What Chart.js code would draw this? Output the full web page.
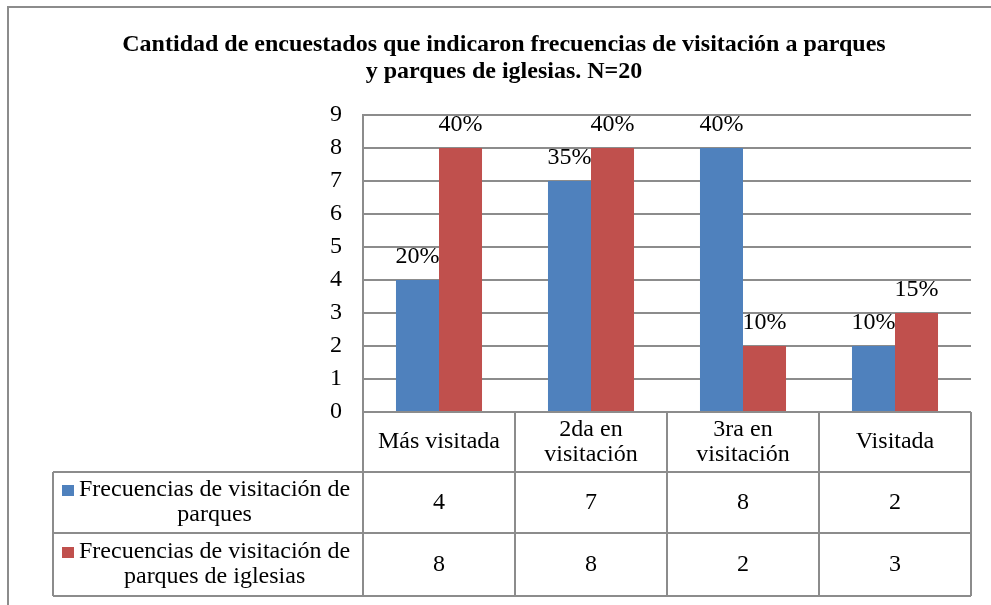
<!DOCTYPE html>
<html>
<head>
<meta charset="utf-8">
<script src="https://cdn.jsdelivr.net/npm/chart.js@4.4.1/dist/chart.umd.min.js"></script>
<style>
    html, body { margin: 0; padding: 0; background: #fff; }
    #wrap { width: 991px; height: 605px; position: relative; }
</style>
</head>
<body>
<div id="wrap"><canvas id="chart"></canvas></div>
<script>
// data
var categories = ['Más visitada', ['2da en', 'visitación'], ['3ra en', 'visitación'], 'Visitada'];
var seriesNames = [['Frecuencias de visitación de', 'parques'], ['Frecuencias de visitación de', 'parques de iglesias']];
var parques = [4, 7, 8, 2];
var parquesIglesias = [8, 8, 2, 3];
var totalEncuestados = 20;
var yTicks = [0, 1, 2, 3, 4, 5, 6, 7, 8, 9];
var barColors = ['#4F81BD', '#C0504D'];

var FONT = "'Times New Roman', 'Liberation Serif', serif";
var LINE = '#8c8c8c';

// percent labels on top of each bar
var pctLabels = {
    id: 'pctLabels',
    afterDatasetsDraw: function (chart) {
        var ctx = chart.ctx;
        ctx.save();
        ctx.font = '24px ' + FONT;
        ctx.fillStyle = '#000';
        ctx.textAlign = 'center';
        ctx.textBaseline = 'alphabetic';
        chart.data.datasets.forEach(function (ds, d) {
            chart.getDatasetMeta(d).data.forEach(function (bar, i) {
                var pct = Math.round(ds.data[i] / totalEncuestados * 100) + '%';
                ctx.fillText(pct, bar.x, bar.y - 17);
            });
        });
        ctx.restore();
    }
};

// excel style data table under the plot + outer frame
var dataTable = {
    id: 'dataTable',
    beforeDraw: function (chart) {
        var ctx = chart.ctx;
        ctx.save();
        ctx.strokeStyle = LINE;
        ctx.lineWidth = 2;
        ctx.strokeRect(8, 7, 1100, 700);
        ctx.restore();
    },
    afterDraw: function (chart) {
        var ctx = chart.ctx;
        var area = chart.chartArea;
        var xs = chart.scales.x;
        var half = (xs.getPixelForValue(1) - xs.getPixelForValue(0)) / 2;
        var legendLeft = 53;
        var top = area.bottom;
        var rows = [top, top + 60, top + 121, top + 184];
        var lh = 25;

        ctx.save();
        ctx.strokeStyle = LINE;
        ctx.lineWidth = 2;
        ctx.beginPath();
        // horizontal lines
        ctx.moveTo(area.left, rows[0]); ctx.lineTo(area.right, rows[0]);
        for (var r = 1; r < rows.length; r++) {
            ctx.moveTo(legendLeft, rows[r]); ctx.lineTo(area.right, rows[r]);
        }
        // vertical lines
        ctx.moveTo(legendLeft, rows[1]); ctx.lineTo(legendLeft, rows[3]);
        for (var c = 0; c < categories.length; c++) {
            var xl = xs.getPixelForValue(c) - half;
            ctx.moveTo(xl, rows[0]); ctx.lineTo(xl, rows[3]);
        }
        ctx.moveTo(area.right, rows[0]); ctx.lineTo(area.right, rows[3]);
        ctx.stroke();

        ctx.font = '24px ' + FONT;
        ctx.fillStyle = '#000';
        ctx.textAlign = 'center';
        ctx.textBaseline = 'middle';

        function drawLines(lines, x, yMid) {
            lines = [].concat(lines);
            var y0 = yMid - (lines.length - 1) * lh / 2;
            lines.forEach(function (t, k) { ctx.fillText(t, x, y0 + k * lh); });
        }

        // header: category names
        categories.forEach(function (cat, i) {
            drawLines(cat, xs.getPixelForValue(i), (rows[0] + rows[1]) / 2);
        });

        // series rows
        chart.data.datasets.forEach(function (ds, d) {
            var mid = (rows[d + 1] + rows[d + 2]) / 2;
            var lines = seriesNames[d];
            var maxW = 0;
            lines.forEach(function (t) { maxW = Math.max(maxW, ctx.measureText(t).width); });
            var textX = legendLeft + 26 + maxW / 2;
            var firstY = mid - (lines.length - 1) * lh / 2;
            ctx.fillStyle = barColors[d];
            ctx.fillRect(legendLeft + 9, Math.round(firstY - 5), 12, 11);
            ctx.fillStyle = '#000';
            drawLines(lines, textX, mid);
            ds.data.forEach(function (v, i) {
                ctx.fillText(String(v), xs.getPixelForValue(i), mid);
            });
        });
        ctx.restore();
    }
};

new Chart(document.getElementById('chart'), {
    type: 'bar',
    data: {
        labels: categories,
        datasets: [{
            label: seriesNames[0].join(' '),
            data: parques,
            backgroundColor: barColors[0]
        }, {
            label: seriesNames[1].join(' '),
            data: parquesIglesias,
            backgroundColor: barColors[1]
        }]
    },
    options: {
        responsive: true,
        maintainAspectRatio: false,
        animation: false,
        layout: { padding: { left: 37, right: 20, top: 0, bottom: 193 } },
        datasets: { bar: { categoryPercentage: 0.566, barPercentage: 1 } },
        plugins: {
            legend: { display: false },
            tooltip: { enabled: false },
            title: {
                display: true,
                text: ['Cantidad de encuestados que indicaron frecuencias de visitación a parques', 'y parques de iglesias. N=20'],
                color: '#000',
                font: { family: FONT, size: 24, weight: 'bold', lineHeight: 1.125 },
                padding: { top: 31, bottom: 30 }
            }
        },
        scales: {
            x: {
                display: false
            },
            y: {
                min: 0,
                max: 9,
                afterFit: function (scale) { scale.width = 326; },
                afterBuildTicks: function (scale) {
                    scale.ticks = yTicks.map(function (v) { return { value: v }; });
                },
                ticks: {
                    color: '#000',
                    padding: 21,
                    font: { family: FONT, size: 24 }
                },
                grid: { color: LINE, lineWidth: 2, drawTicks: false },
                border: { display: true, color: LINE, width: 2 }
            }
        }
    },
    plugins: [pctLabels, dataTable]
});
</script>
</body>
</html>
